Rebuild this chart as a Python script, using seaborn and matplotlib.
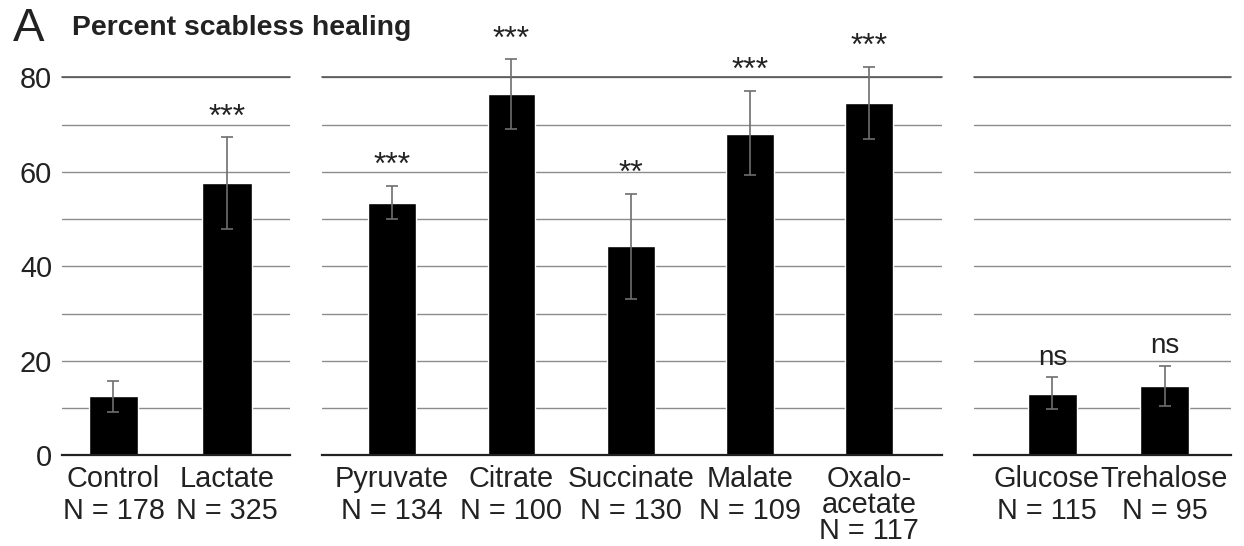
import numpy as np
import matplotlib
matplotlib.use("Agg")
import matplotlib.pyplot as plt
from matplotlib.ticker import MultipleLocator
from matplotlib.transforms import ScaledTranslation
import seaborn as sns

# data (percent of wounds healed without scab)
ctrl_names = ["Control", "Lactate"]
ctrl_n = [178, 325]
ctrl_pct = [12.6, 57.6]
ctrl_lo = [9.3, 48.0]
ctrl_hi = [15.7, 67.3]
ctrl_sig = ["", "***"]

tca_names = ["Pyruvate", "Citrate", "Succinate", "Malate", "Oxalo-\nacetate"]
tca_n = [134, 100, 130, 109, 117]
tca_pct = [53.4, 76.5, 44.3, 68.1, 74.6]
tca_lo = [50.0, 69.0, 33.2, 59.3, 67.0]
tca_hi = [57.0, 83.8, 55.4, 77.2, 82.2]
tca_sig = ["***", "***", "**", "***", "***"]

sugar_names = ["Glucose", "Trehalose"]
sugar_n = [115, 95]
sugar_pct = [13.1, 14.8]
sugar_lo = [9.8, 10.5]
sugar_hi = [16.5, 19.0]
sugar_sig = ["ns", "ns"]

sns.set_style("white")
plt.rcParams['font.family'] = ['Liberation Sans', 'DejaVu Sans']

fig = plt.figure(figsize=(12.44, 5.46), dpi=100)
bottom, height = 0.1658, 0.6926
panels = [
    ([0.0498, bottom, 0.1833, height], ctrl_names, ctrl_n, ctrl_pct, ctrl_lo, ctrl_hi, ctrl_sig, (-0.454, 1.555), 0.44),
    ([0.2588, bottom, 0.4984, height], tca_names, tca_n, tca_pct, tca_lo, tca_hi, tca_sig, (-0.588, 4.609), 0.40),
    ([0.7830, bottom, 0.2066, height], sugar_names, sugar_n, sugar_pct, sugar_lo, sugar_hi, sugar_sig, (-0.70, 1.594), 0.44),
]

for i, (rect, names, ns, pct, lo, hi, sig, xlim, w) in enumerate(panels):
    ax = fig.add_axes(rect)
    labels = [f"{nm}\nN = {n}" for nm, n in zip(names, ns)]
    sns.barplot(x=labels, y=pct, color="black", saturation=1, width=w, ax=ax, zorder=2)
    x = np.arange(len(pct))
    pct_a = np.array(pct)
    yerr = [pct_a - np.array(lo), np.array(hi) - pct_a]
    ax.errorbar(x, pct_a, yerr=yerr, fmt="none", ecolor="#6e6e6e", elinewidth=1.2,
                capsize=4, capthick=1.2, zorder=3, clip_on=False)
    for xi, top, s in zip(x, hi, sig):
        if s == "ns":
            ax.annotate(s, (xi, top), xytext=(0, 5), textcoords="offset points",
                        ha="center", va="bottom", fontsize=20, color="#222222",
                        annotation_clip=False)
        elif s:
            ax.annotate(s, (xi, top), xytext=(0, 3.5), textcoords="offset points",
                        ha="center", va="bottom", fontsize=23, color="#222222",
                        annotation_clip=False)
    ax.set_xlim(*xlim)
    ax.set_ylim(0, 80)
    ax.yaxis.set_major_locator(MultipleLocator(20))
    ax.yaxis.set_minor_locator(MultipleLocator(10))
    ax.grid(axis="y", which="both", color="#8c8c8c", linewidth=1.0, zorder=0)
    ax.set_axisbelow(True)
    ax.axhline(80, color="#555555", linewidth=1.2, zorder=1, clip_on=False)
    for side in ["left", "right", "top"]:
        ax.spines[side].set_visible(False)
    ax.spines["bottom"].set_color("#222222")
    ax.spines["bottom"].set_linewidth(1.6)
    ax.tick_params(axis="both", which="both", length=0, labelsize=20.8, colors="#222222")
    ax.tick_params(axis="x", pad=7)
    ax.tick_params(axis="y", pad=7)
    for lab in ax.get_xticklabels():
        lab.set_linespacing(0.9 if "Oxalo" in lab.get_text() else 1.17)
        if lab.get_text().startswith("Glucose"):
            # label sits a little left of its bar in the original
            lab.set_transform(lab.get_transform() + ScaledTranslation(-6 / 100, 0, fig.dpi_scale_trans))
    ax.set_xlabel("")
    ax.set_ylabel("")
    if i > 0:
        ax.set_yticklabels([])

fig.text(13 / 1244, 1 - 41 / 546, "A", fontsize=34, va="baseline", color="#222222")
fig.text(72 / 1244, 1 - 35 / 546, "Percent scabless healing", fontsize=20.4,
         fontweight="bold", va="baseline", color="#222222")

fig.savefig("out.png", dpi=100)
